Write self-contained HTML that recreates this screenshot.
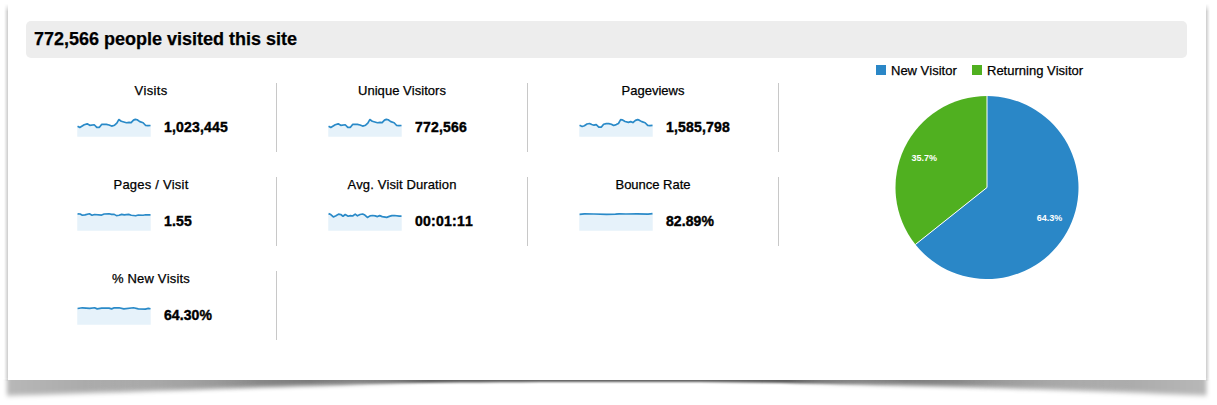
<!DOCTYPE html>
<html><head><meta charset="utf-8"><title>Visitors Overview</title>
<style>
html,body{margin:0;padding:0;background:#fff;}
body{width:1217px;height:405px;position:relative;overflow:hidden;font-family:"Liberation Sans",Arial,sans-serif;color:#000;font-kerning:none;}
.shadow{position:absolute;left:0;top:0;}
.paper{position:absolute;left:8px;top:0;width:1198px;height:380px;background:#fff;}
.hdr{position:absolute;left:26px;top:21px;width:1161px;height:37px;background:#ededed;border-radius:5px;}
.hdr span{position:absolute;left:8px;top:8px;font-size:18px;font-weight:bold;line-height:21px;white-space:nowrap;-webkit-text-stroke:0.25px #000;}
.cell{position:absolute;width:250px;height:69px;border-right:1px solid #c8c8c8;}
.lb{position:absolute;left:0;width:250px;top:0;text-align:center;font-size:13px;line-height:15px;color:#000;-webkit-text-stroke:0.25px #000;}
.sp{position:absolute;left:51px;top:29px;}
.val{position:absolute;left:138px;top:36px;font-size:14px;font-weight:bold;line-height:16px;white-space:nowrap;-webkit-text-stroke:0.4px #000;}
.lg{position:absolute;top:63px;font-size:13px;line-height:15px;white-space:nowrap;color:#000;-webkit-text-stroke:0.25px #000;}
.sw{position:absolute;top:65px;width:10px;height:10px;}
.pie{position:absolute;}
.pt{font-kerning:none;font-family:"Liberation Sans",Arial,sans-serif;font-size:9px;font-weight:bold;fill:#fff;text-anchor:middle;}
</style></head><body>
<svg class="shadow" width="1217" height="405" viewBox="0 0 1217 405">
<defs>
<linearGradient id="ls" gradientUnits="userSpaceOnUse" x1="4" x2="8" y1="0" y2="0"><stop offset="0" stop-color="#000" stop-opacity="0"/><stop offset="1" stop-color="#000" stop-opacity="0.2"/></linearGradient>
<linearGradient id="rs" gradientUnits="userSpaceOnUse" x1="1206" x2="1210" y1="0" y2="0"><stop offset="0" stop-color="#000" stop-opacity="0.2"/><stop offset="1" stop-color="#000" stop-opacity="0"/></linearGradient>
<linearGradient id="vm" gradientUnits="userSpaceOnUse" x1="0" x2="0" y1="0" y2="382"><stop offset="0.01" stop-color="#000"/><stop offset="0.03" stop-color="#fff"/><stop offset="0.99" stop-color="#fff"/><stop offset="0.998" stop-color="#000"/></linearGradient>
<linearGradient id="bs" gradientUnits="userSpaceOnUse" x1="0" x2="1217" y1="0" y2="0"><stop offset="0.0066" stop-color="#000" stop-opacity="0.28"/><stop offset="0.1233" stop-color="#000" stop-opacity="0.37"/><stop offset="0.2465" stop-color="#000" stop-opacity="0.51"/><stop offset="0.3369" stop-color="#000" stop-opacity="0.64"/><stop offset="0.6491" stop-color="#000" stop-opacity="0.64"/><stop offset="0.7477" stop-color="#000" stop-opacity="0.51"/><stop offset="0.8710" stop-color="#000" stop-opacity="0.37"/><stop offset="0.9910" stop-color="#000" stop-opacity="0.28"/></linearGradient>
<linearGradient id="g0" gradientUnits="userSpaceOnUse" x1="0" x2="1217" y1="0" y2="0"><stop offset="0.0657" stop-color="#fff"/><stop offset="0.2136" stop-color="#000"/><stop offset="0.7864" stop-color="#000"/><stop offset="0.9343" stop-color="#fff"/></linearGradient><linearGradient id="g1" gradientUnits="userSpaceOnUse" x1="0" x2="1217" y1="0" y2="0"><stop offset="0.0657" stop-color="#000"/><stop offset="0.2136" stop-color="#fff"/><stop offset="0.2547" stop-color="#fff"/><stop offset="0.3533" stop-color="#000"/><stop offset="0.6467" stop-color="#000"/><stop offset="0.7453" stop-color="#fff"/><stop offset="0.7864" stop-color="#fff"/><stop offset="0.9343" stop-color="#000"/></linearGradient><linearGradient id="g2" gradientUnits="userSpaceOnUse" x1="0" x2="1217" y1="0" y2="0"><stop offset="0.2547" stop-color="#000"/><stop offset="0.3533" stop-color="#fff"/><stop offset="0.6467" stop-color="#fff"/><stop offset="0.7453" stop-color="#000"/></linearGradient>
<mask id="mv" maskUnits="userSpaceOnUse" x="0" y="0" width="1217" height="405"><rect x="0" y="0" width="1217" height="382" fill="url(#vm)"/></mask>
<mask id="m0" maskUnits="userSpaceOnUse" x="0" y="0" width="1217" height="405"><rect x="0" y="0" width="1217" height="405" fill="url(#g0)"/></mask><filter id="f0" filterUnits="userSpaceOnUse" x="0" y="350" width="1217" height="55"><feGaussianBlur stdDeviation="2 2.7"/></filter><mask id="m1" maskUnits="userSpaceOnUse" x="0" y="0" width="1217" height="405"><rect x="0" y="0" width="1217" height="405" fill="url(#g1)"/></mask><filter id="f1" filterUnits="userSpaceOnUse" x="0" y="350" width="1217" height="55"><feGaussianBlur stdDeviation="1.9"/></filter><mask id="m2" maskUnits="userSpaceOnUse" x="0" y="0" width="1217" height="405"><rect x="0" y="0" width="1217" height="405" fill="url(#g2)"/></mask><filter id="f2" filterUnits="userSpaceOnUse" x="0" y="350" width="1217" height="55"><feGaussianBlur stdDeviation="0.9"/></filter><clipPath id="cb"><rect x="0" y="379.5" width="1217" height="26"/></clipPath>
</defs>
<g mask="url(#mv)"><rect x="4" y="0" width="4" height="382" fill="url(#ls)"/><rect x="1206" y="0" width="4" height="382" fill="url(#rs)"/></g>
<g clip-path="url(#cb)"><g mask="url(#m0)"><polygon points="6.9,364 6.9,395.80 20,395.35 40,394.67 60,393.98 80,393.30 100,392.61 120,391.93 140,391.24 160,390.57 180,389.92 200,389.27 220,388.61 240,387.96 260,387.31 280,386.65 300,386.00 320,385.45 340,384.91 360,384.36 380,383.82 400,383.27 420,382.91 440,382.74 460,382.56 480,382.39 500,382.26 520,382.19 540,382.12 560,382.05 580,381.97 600,381.90 620,381.94 640,381.97 660,382.01 680,382.05 700,382.08 720,382.24 740,382.51 760,382.79 780,383.06 800,383.39 820,383.77 840,384.15 860,384.54 880,384.92 900,385.30 920,385.81 940,386.33 960,386.84 980,387.35 1000,387.86 1020,388.41 1040,389.12 1060,389.83 1080,390.54 1100,391.25 1120,392.01 1140,392.84 1160,393.67 1180,394.50 1206.5,395.60 1206.5,364" fill="url(#bs)" filter="url(#f0)"/></g><g mask="url(#m1)"><polygon points="6.9,364 6.9,395.80 20,395.35 40,394.67 60,393.98 80,393.30 100,392.61 120,391.93 140,391.24 160,390.57 180,389.92 200,389.27 220,388.61 240,387.96 260,387.31 280,386.65 300,386.00 320,385.45 340,384.91 360,384.36 380,383.82 400,383.27 420,382.91 440,382.74 460,382.56 480,382.39 500,382.26 520,382.19 540,382.12 560,382.05 580,381.97 600,381.90 620,381.94 640,381.97 660,382.01 680,382.05 700,382.08 720,382.24 740,382.51 760,382.79 780,383.06 800,383.39 820,383.77 840,384.15 860,384.54 880,384.92 900,385.30 920,385.81 940,386.33 960,386.84 980,387.35 1000,387.86 1020,388.41 1040,389.12 1060,389.83 1080,390.54 1100,391.25 1120,392.01 1140,392.84 1160,393.67 1180,394.50 1206.5,395.60 1206.5,364" fill="url(#bs)" filter="url(#f1)"/></g><g mask="url(#m2)"><polygon points="6.9,364 6.9,395.80 20,395.35 40,394.67 60,393.98 80,393.30 100,392.61 120,391.93 140,391.24 160,390.57 180,389.92 200,389.27 220,388.61 240,387.96 260,387.31 280,386.65 300,386.00 320,385.45 340,384.91 360,384.36 380,383.82 400,383.27 420,382.91 440,382.74 460,382.56 480,382.39 500,382.26 520,382.19 540,382.12 560,382.05 580,381.97 600,381.90 620,381.94 640,381.97 660,382.01 680,382.05 700,382.08 720,382.24 740,382.51 760,382.79 780,383.06 800,383.39 820,383.77 840,384.15 860,384.54 880,384.92 900,385.30 920,385.81 940,386.33 960,386.84 980,387.35 1000,387.86 1020,388.41 1040,389.12 1060,389.83 1080,390.54 1100,391.25 1120,392.01 1140,392.84 1160,393.67 1180,394.50 1206.5,395.60 1206.5,364" fill="url(#bs)" filter="url(#f2)"/></g></g>
</svg>
<div class="paper"></div>
<div class="hdr"><span>772,566 people visited this site</span></div>
<div class="cell" style="left:26px;top:83px"><div class="lb" style="letter-spacing:0.323px">Visits</div><svg class="sp" width="76" height="26" viewBox="0 0 76 26"><path d="M0.26 14.3 L0.56 14.3 L2.78 15.41 L7.22 12.74 L10.19 11.85 L12.78 13.33 L17.22 12.74 L19.81 15.33 L22.41 15.33 L24.63 12.44 L29.44 12.37 L32.04 12.96 L34.63 14.07 L37.59 13.19 L39.81 11.11 L41.81 7.56 L44.26 9.26 L49.44 10.74 L52.04 10.37 L54.11 10.59 L56.48 8.15 L58.33 7.41 L60.19 7.78 L62.78 9.63 L66.11 10.74 L68.7 13.48 L70.93 13.7 L73.52 13.48 L73.72 13.48 L73.72 24.8 L0.26 24.8 Z" fill="#e6f2fa"/><path d="M0.56 14.3 L2.78 15.41 L7.22 12.74 L10.19 11.85 L12.78 13.33 L17.22 12.74 L19.81 15.33 L22.41 15.33 L24.63 12.44 L29.44 12.37 L32.04 12.96 L34.63 14.07 L37.59 13.19 L39.81 11.11 L41.81 7.56 L44.26 9.26 L49.44 10.74 L52.04 10.37 L54.11 10.59 L56.48 8.15 L58.33 7.41 L60.19 7.78 L62.78 9.63 L66.11 10.74 L68.7 13.48 L70.93 13.7 L73.52 13.48" fill="none" stroke="#2a8ac8" stroke-width="1.7" stroke-linejoin="round" stroke-linecap="butt"/></svg><div class="val" style="letter-spacing:0.191px">1,023,445</div></div>
<div class="cell" style="left:277px;top:83px"><div class="lb" style="letter-spacing:0.038px">Unique Visitors</div><svg class="sp" width="76" height="26" viewBox="0 0 76 26"><path d="M0.26 14.3 L0.56 14.3 L2.78 15.41 L7.22 12.74 L10.19 11.85 L12.78 13.33 L17.22 12.74 L19.81 15.33 L22.41 15.33 L24.63 12.44 L29.44 12.37 L32.04 12.96 L34.63 14.07 L37.59 13.19 L39.81 11.11 L41.81 7.56 L44.26 9.26 L49.44 10.74 L52.04 10.37 L54.11 10.59 L56.48 8.15 L58.33 7.41 L60.19 7.78 L62.78 9.63 L66.11 10.74 L68.7 13.48 L70.93 13.7 L73.52 13.48 L73.72 13.48 L73.72 24.8 L0.26 24.8 Z" fill="#e6f2fa"/><path d="M0.56 14.3 L2.78 15.41 L7.22 12.74 L10.19 11.85 L12.78 13.33 L17.22 12.74 L19.81 15.33 L22.41 15.33 L24.63 12.44 L29.44 12.37 L32.04 12.96 L34.63 14.07 L37.59 13.19 L39.81 11.11 L41.81 7.56 L44.26 9.26 L49.44 10.74 L52.04 10.37 L54.11 10.59 L56.48 8.15 L58.33 7.41 L60.19 7.78 L62.78 9.63 L66.11 10.74 L68.7 13.48 L70.93 13.7 L73.52 13.48" fill="none" stroke="#2a8ac8" stroke-width="1.7" stroke-linejoin="round" stroke-linecap="butt"/></svg><div class="val" style="letter-spacing:0.199px">772,566</div></div>
<div class="cell" style="left:528px;top:83px"><div class="lb" style="letter-spacing:0.015px">Pageviews</div><svg class="sp" width="76" height="26" viewBox="0 0 76 26"><path d="M0.26 13.33 L0.56 13.33 L3.15 14.44 L5.37 13.7 L7.96 12.0 L10.56 11.48 L12.78 12.44 L15.0 13.19 L17.22 12.59 L19.81 15.04 L22.41 15.04 L24.63 12.22 L27.22 11.63 L29.81 11.63 L32.41 12.22 L34.63 13.48 L37.22 12.59 L39.44 11.48 L41.67 7.63 L43.15 7.78 L46.11 9.48 L49.44 10.37 L51.67 9.63 L53.89 10.59 L56.48 8.37 L58.7 7.63 L60.19 8.15 L62.78 9.63 L66.11 10.74 L68.7 13.33 L70.93 13.56 L73.52 13.33 L73.72 13.33 L73.72 24.8 L0.26 24.8 Z" fill="#e6f2fa"/><path d="M0.56 13.33 L3.15 14.44 L5.37 13.7 L7.96 12.0 L10.56 11.48 L12.78 12.44 L15.0 13.19 L17.22 12.59 L19.81 15.04 L22.41 15.04 L24.63 12.22 L27.22 11.63 L29.81 11.63 L32.41 12.22 L34.63 13.48 L37.22 12.59 L39.44 11.48 L41.67 7.63 L43.15 7.78 L46.11 9.48 L49.44 10.37 L51.67 9.63 L53.89 10.59 L56.48 8.37 L58.7 7.63 L60.19 8.15 L62.78 9.63 L66.11 10.74 L68.7 13.33 L70.93 13.56 L73.52 13.33" fill="none" stroke="#2a8ac8" stroke-width="1.7" stroke-linejoin="round" stroke-linecap="butt"/></svg><div class="val" style="letter-spacing:0.191px">1,585,798</div></div>
<div class="cell" style="left:26px;top:177px"><div class="lb" style="letter-spacing:0.211px">Pages / Visit</div><svg class="sp" width="76" height="26" viewBox="0 0 76 26"><path d="M0.26 7.78 L0.56 7.78 L3.15 8.0 L5.37 9.26 L7.96 8.89 L12.41 7.78 L15.0 9.26 L17.59 8.52 L24.63 9.04 L27.22 8.0 L32.04 7.78 L34.63 8.37 L37.22 8.37 L39.44 9.63 L42.04 9.26 L44.63 8.37 L47.22 8.89 L51.67 8.37 L54.26 9.26 L58.7 9.78 L61.3 9.04 L66.11 9.26 L68.7 8.74 L73.52 8.89 L73.72 8.89 L73.72 24.8 L0.26 24.8 Z" fill="#e6f2fa"/><path d="M0.56 7.78 L3.15 8.0 L5.37 9.26 L7.96 8.89 L12.41 7.78 L15.0 9.26 L17.59 8.52 L24.63 9.04 L27.22 8.0 L32.04 7.78 L34.63 8.37 L37.22 8.37 L39.44 9.63 L42.04 9.26 L44.63 8.37 L47.22 8.89 L51.67 8.37 L54.26 9.26 L58.7 9.78 L61.3 9.04 L66.11 9.26 L68.7 8.74 L73.52 8.89" fill="none" stroke="#2a8ac8" stroke-width="1.7" stroke-linejoin="round" stroke-linecap="butt"/></svg><div class="val" style="letter-spacing:0.188px">1.55</div></div>
<div class="cell" style="left:277px;top:177px"><div class="lb" style="letter-spacing:0.109px">Avg. Visit Duration</div><svg class="sp" width="76" height="26" viewBox="0 0 76 26"><path d="M0.26 7.63 L0.56 7.63 L2.78 8.52 L5.37 10.96 L7.96 9.78 L10.56 8.15 L12.78 8.52 L15.0 10.22 L17.22 8.52 L20.19 10.22 L22.41 9.63 L24.63 10.0 L27.22 8.15 L29.44 9.85 L32.04 8.52 L34.63 8.0 L36.85 9.04 L39.44 11.48 L42.04 9.85 L44.63 9.48 L47.22 9.85 L49.44 10.59 L51.67 9.63 L54.26 10.59 L58.7 11.33 L61.3 10.37 L63.89 9.63 L66.48 9.48 L71.3 10.15 L73.52 10.22 L73.72 10.22 L73.72 24.8 L0.26 24.8 Z" fill="#e6f2fa"/><path d="M0.56 7.63 L2.78 8.52 L5.37 10.96 L7.96 9.78 L10.56 8.15 L12.78 8.52 L15.0 10.22 L17.22 8.52 L20.19 10.22 L22.41 9.63 L24.63 10.0 L27.22 8.15 L29.44 9.85 L32.04 8.52 L34.63 8.0 L36.85 9.04 L39.44 11.48 L42.04 9.85 L44.63 9.48 L47.22 9.85 L49.44 10.59 L51.67 9.63 L54.26 10.59 L58.7 11.33 L61.3 10.37 L63.89 9.63 L66.48 9.48 L71.3 10.15 L73.52 10.22" fill="none" stroke="#2a8ac8" stroke-width="1.7" stroke-linejoin="round" stroke-linecap="butt"/></svg><div class="val" style="letter-spacing:0.245px">00:01:11</div></div>
<div class="cell" style="left:528px;top:177px"><div class="lb" style="letter-spacing:-0.015px">Bounce Rate</div><svg class="sp" width="76" height="26" viewBox="0 0 76 26"><path d="M0.26 8.37 L0.56 8.37 L5.37 7.93 L15.0 8.0 L27.59 8.3 L36.48 8.15 L40.19 7.78 L46.85 8.0 L57.96 7.78 L69.07 8.15 L73.52 7.63 L73.72 7.63 L73.72 24.8 L0.26 24.8 Z" fill="#e6f2fa"/><path d="M0.56 8.37 L5.37 7.93 L15.0 8.0 L27.59 8.3 L36.48 8.15 L40.19 7.78 L46.85 8.0 L57.96 7.78 L69.07 8.15 L73.52 7.63" fill="none" stroke="#2a8ac8" stroke-width="1.7" stroke-linejoin="round" stroke-linecap="butt"/></svg><div class="val" style="letter-spacing:0.086px">82.89%</div></div>
<div class="cell" style="left:26px;top:271px"><div class="lb" style="letter-spacing:0.179px">% New Visits</div><svg class="sp" width="76" height="26" viewBox="0 0 76 26"><path d="M0.26 8.52 L0.56 8.52 L5.37 7.78 L12.78 8.37 L17.59 7.78 L20.19 8.89 L24.63 8.15 L32.04 8.15 L34.63 8.89 L37.22 7.78 L42.04 7.78 L46.85 8.89 L56.48 7.78 L61.3 8.89 L68.33 9.11 L71.3 8.37 L73.52 8.74 L73.72 8.74 L73.72 24.8 L0.26 24.8 Z" fill="#e6f2fa"/><path d="M0.56 8.52 L5.37 7.78 L12.78 8.37 L17.59 7.78 L20.19 8.89 L24.63 8.15 L32.04 8.15 L34.63 8.89 L37.22 7.78 L42.04 7.78 L46.85 8.89 L56.48 7.78 L61.3 8.89 L68.33 9.11 L71.3 8.37 L73.52 8.74" fill="none" stroke="#2a8ac8" stroke-width="1.7" stroke-linejoin="round" stroke-linecap="butt"/></svg><div class="val" style="letter-spacing:0.086px">64.30%</div></div>

<div class="sw" style="left:876px;background:#2a87c7"></div><div class="lg" style="left:891px">New Visitor</div>
<div class="sw" style="left:972px;background:#50b020"></div><div class="lg" style="left:987px">Returning Visitor</div>
<svg class="pie" width="200" height="200" viewBox="887 87 200 200" style="left:887px;top:87px"><path d="M987 187.5 L915.41 244.49 A91.5 91.5 0 0 1 987 96.0 Z" fill="#50b020"/><path d="M987 187.5 L987 96.0 A91.5 91.5 0 1 1 915.41 244.49 Z" fill="#2a87c7"/><path d="M987 96.0 L987 187.5 L915.41 244.49" fill="none" stroke="#fff" stroke-width="1"/><text x="1049.4" y="221" class="pt">64.3%</text><text x="924.3" y="161.2" class="pt">35.7%</text></svg>
</body></html>
